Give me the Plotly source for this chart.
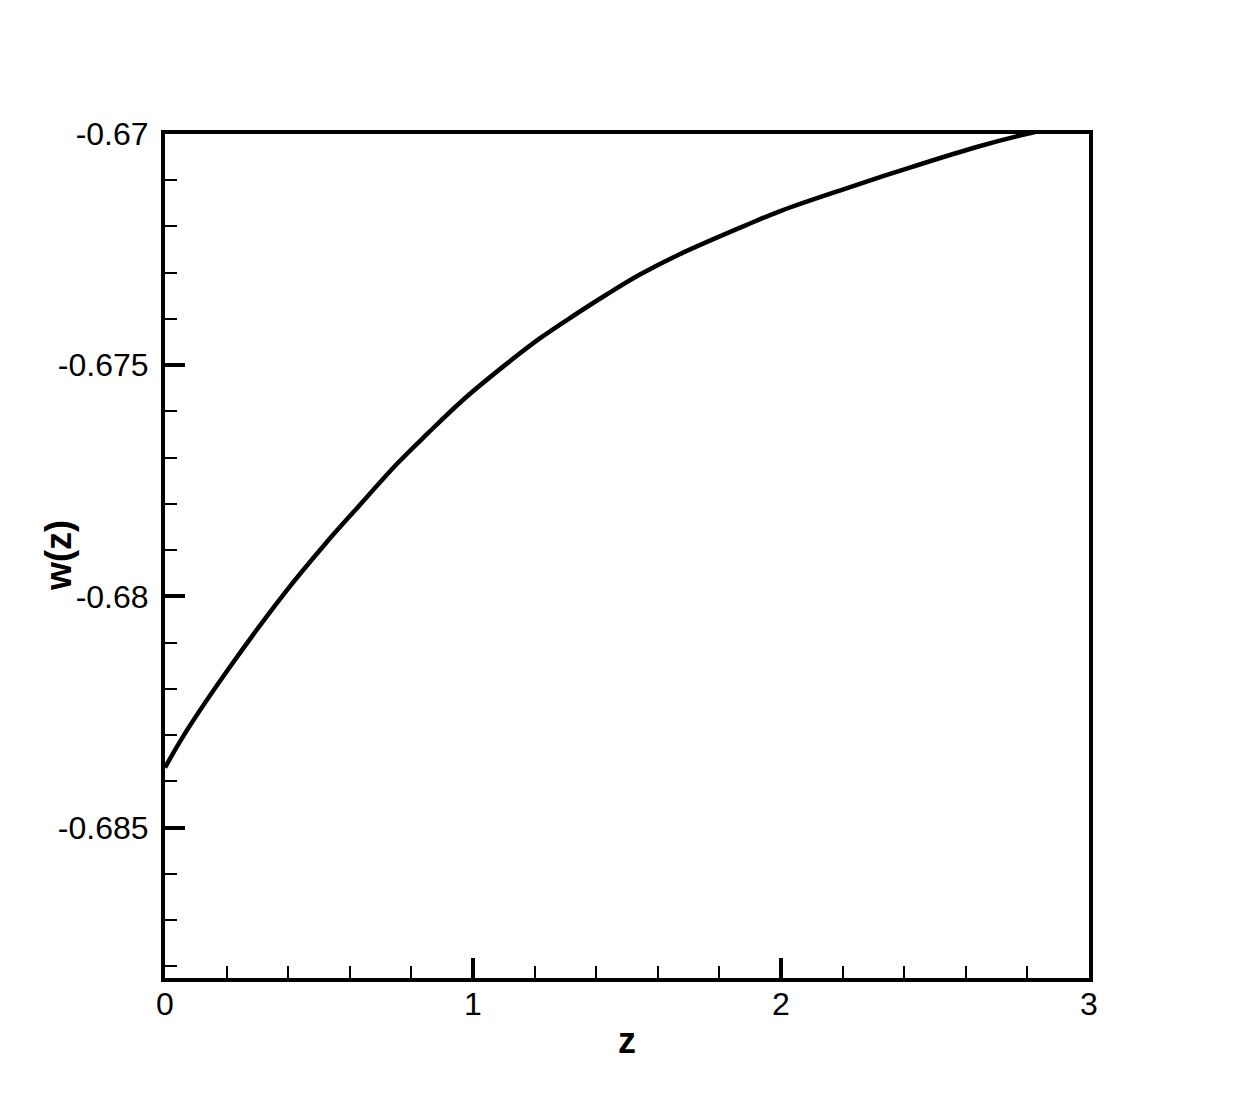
import plotly.graph_objects as go

# curve (z, w(z))
z_vals = [0.0, 0.066, 0.206, 0.389, 0.518, 0.626, 0.755, 0.852, 0.971, 1.111,
          1.219, 1.326, 1.434, 1.542, 1.671, 1.887, 2.0, 2.21, 2.426, 2.641,
          2.803, 3.0]
w_vals = [-0.6837, -0.68295, -0.68157, -0.67992, -0.67888, -0.67807, -0.67712,
          -0.67648, -0.67573, -0.67496, -0.67441, -0.67393, -0.67347, -0.67304,
          -0.6726, -0.67197, -0.67166, -0.67118, -0.67071, -0.67027, -0.66999,
          -0.6697]

x_ticks = [0, 1, 2, 3]
x_labels = ["0", "1", "2", "3"]
y_ticks = [-0.67, -0.675, -0.68, -0.685]
y_labels = ["-0.67", "-0.675", "-0.68", "-0.685"]

FONT = "Liberation Sans, Arial, sans-serif"

fig = go.Figure(go.Scatter(
    x=z_vals, y=w_vals,
    mode="lines",
    line=dict(color="black", width=4.5, shape="spline"),
    showlegend=False,
))

axis_common = dict(
    showgrid=False, zeroline=False,
    showline=True, linecolor="black", linewidth=4, mirror=True,
    ticks="inside", ticklen=20, tickwidth=4, tickcolor="black",
    tickfont=dict(family=FONT, size=32, color="black"),
)

fig.update_xaxes(
    **axis_common,
    range=[0, 3],
    tickvals=x_ticks, ticktext=x_labels,
    minor=dict(dtick=0.2, tick0=0, ticks="inside", ticklen=12,
               tickwidth=1.5, tickcolor="black"),
    ticklabelstandoff=-5,
)
fig.update_yaxes(
    **axis_common,
    range=[-0.68825, -0.67],
    tickvals=y_ticks, ticktext=y_labels,
    minor=dict(dtick=0.001, tick0=-0.67, ticks="inside", ticklen=12,
               tickwidth=1.5, tickcolor="black"),
    ticklabelstandoff=6,
)

# axis titles placed as annotations so they sit where the reference has them
fig.add_annotation(text="<b>z</b>", xref="paper", yref="paper", x=0.5, y=0,
                   xanchor="center", yanchor="middle", yshift=-62,
                   showarrow=False, font=dict(family=FONT, size=36, color="black"))
fig.add_annotation(text="<b>w(z)</b>", xref="paper", yref="paper", x=0, y=0.5,
                   xanchor="center", yanchor="middle", xshift=-107,
                   textangle=-90, showarrow=False,
                   font=dict(family=FONT, size=36, color="black"))

fig.update_layout(
    width=1242, height=1104,
    margin=dict(l=157, r=161, t=126, b=134),
    paper_bgcolor="white", plot_bgcolor="white",
)

fig.write_html("out.html")
